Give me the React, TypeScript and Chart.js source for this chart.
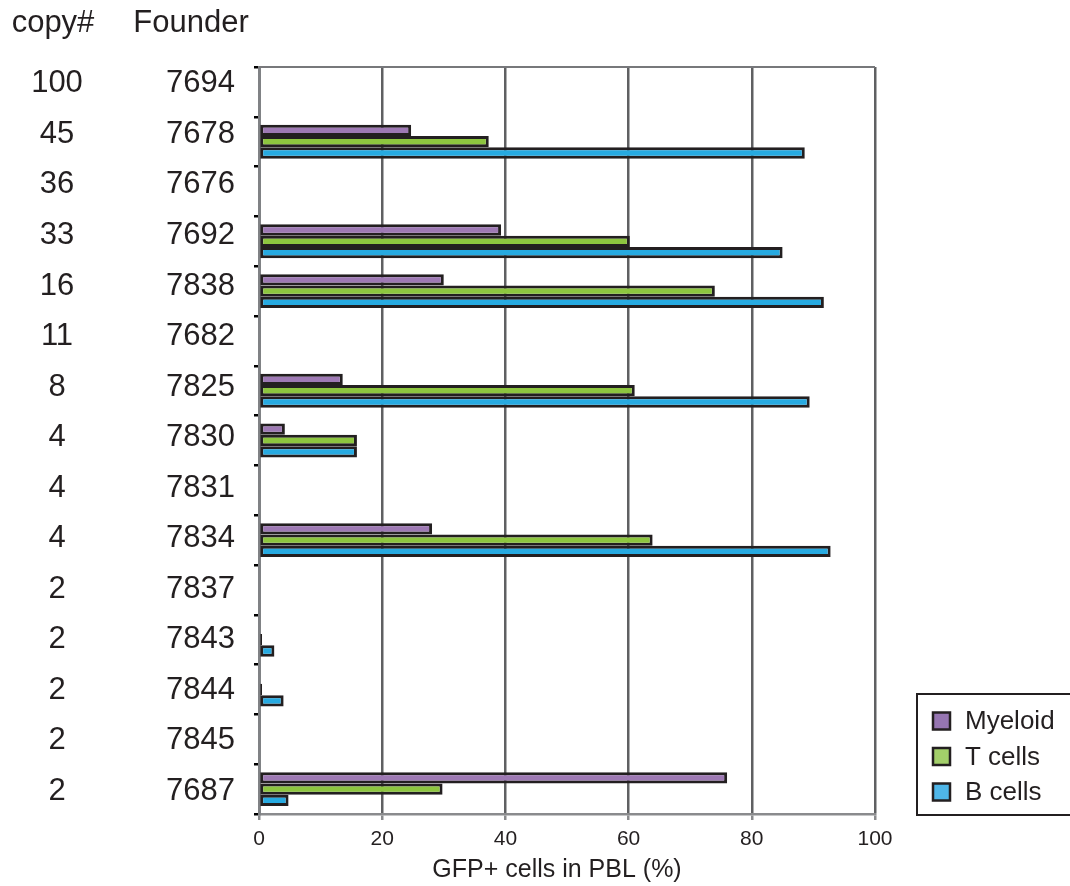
import React, { useEffect, useRef } from 'react';
import { Chart, registerables } from 'chart.js';

Chart.register(...registerables);

const founders = ['7694', '7678', '7676', '7692', '7838', '7682', '7825', '7830', '7831', '7834', '7837', '7843', '7844', '7845', '7687'];
const copyNumbers = ['100', '45', '36', '33', '16', '11', '8', '4', '4', '4', '2', '2', '2', '2', '2'];
const myeloid = [null, 24.7, null, 39.3, 30.0, null, 13.6, 4.2, null, 28.1, null, null, null, null, 76.0];
const tCells = [null, 37.3, null, 60.2, 74.0, null, 61.0, 15.9, null, 63.9, null, 0.5, 0.5, null, 29.8];
const bCells = [null, 88.6, null, 85.0, 91.7, null, 89.4, 15.9, null, 92.8, null, 2.5, 4.0, null, 4.8];
const seriesNames = ['Myeloid', 'T cells', 'B cells'];
const xAxisTitle = 'GFP+ cells in PBL (%)';
const xTickStep = 20;
const xMin = 0;
const xMax = 100;

const FONT = '"Liberation Sans", Arial, Helvetica, sans-serif';
const TEXT = '#231f20';
const barColors = ['#9e79b4', '#8dc63f', '#27aae1'];
const legendColors = ['#9675b1', '#a3cf6a', '#4fb6e8'];

const annotations = {
  id: 'annotations',
  afterDraw(chart: any) {
    const { ctx, chartArea: ca, scales } = chart;
    const y = scales.y;
    ctx.save();
    // top frame line
    ctx.strokeStyle = '#77787b';
    ctx.lineWidth = 2;
    ctx.beginPath();
    ctx.moveTo(ca.left, ca.top);
    ctx.lineTo(ca.right, ca.top);
    ctx.stroke();

    // column headers and row labels
    ctx.fillStyle = TEXT;
    ctx.font = `31px ${FONT}`;
    ctx.textBaseline = 'middle';
    ctx.textAlign = 'center';
    ctx.fillText('copy#', 53, 23);
    ctx.fillText('Founder', 191, 23);
    const n = founders.length;
    founders.forEach((f, i) => {
      const py = y.getPixelForValue(i) - 8 + (10 * i) / (n - 1);
      ctx.textAlign = 'center';
      ctx.fillText(copyNumbers[i], 57, py);
      ctx.textAlign = 'right';
      ctx.fillText(f, 235, py);
    });

    // x-axis title
    ctx.font = `25px ${FONT}`;
    ctx.textAlign = 'center';
    ctx.fillText(xAxisTitle, (ca.left + ca.right) / 2 - 10, 870);

    // legend box
    const lx = ca.right + 42;
    const ly = ca.bottom - 120;
    ctx.strokeStyle = TEXT;
    ctx.lineWidth = 2;
    ctx.strokeRect(lx, ly, 180, 121);
    ctx.font = `26px ${FONT}`;
    ctx.textAlign = 'left';
    seriesNames.forEach((name, i) => {
      const cy = ly + 27 + i * 35.5;
      ctx.fillStyle = legendColors[i];
      ctx.fillRect(lx + 16, cy - 8.5, 17, 17);
      ctx.strokeStyle = TEXT;
      ctx.lineWidth = 2.5;
      ctx.strokeRect(lx + 16, cy - 8.5, 17, 17);
      ctx.fillStyle = TEXT;
      ctx.fillText(name, lx + 48, cy + 1);
    });
    ctx.restore();
  },
};

export default function App() {
  const ref = useRef<HTMLCanvasElement>(null);
  useEffect(() => {
    if (!ref.current) return;
    Chart.defaults.font.family = FONT;
    const seriesData = [myeloid, tCells, bCells];
    const chart = new Chart(ref.current, {
      type: 'bar',
      data: {
        labels: founders,
        datasets: seriesNames.map((name, i) => ({
          label: name,
          data: seriesData[i] as any,
          backgroundColor: barColors[i],
          borderColor: TEXT,
          borderWidth: 3,
          borderSkipped: false,
          categoryPercentage: 0.68,
          barPercentage: 1.0,
        })),
      },
      options: {
        indexAxis: 'y',
        animation: false,
        responsive: false,
        layout: { padding: { top: 67, right: 195, left: 0, bottom: 0 } },
        plugins: { legend: { display: false }, tooltip: { enabled: false } },
        scales: {
          x: {
            type: 'linear',
            min: xMin,
            max: xMax,
            ticks: { stepSize: xTickStep, color: TEXT, font: { size: 21 }, padding: 7 },
            grid: { color: '#5f6062', lineWidth: 2.5, tickLength: 6, tickColor: '#8a8b8d' },
            border: { display: true, color: '#8a8b8d', width: 2.5 },
            title: { display: false },
            afterFit: (s: any) => { s.height = 72; },
          },
          y: {
            type: 'category',
            ticks: { display: false },
            grid: { drawOnChartArea: false, tickLength: 5, tickColor: '#000', lineWidth: 2.5 },
            border: { display: true, color: '#808285', width: 3 },
            afterFit: (s: any) => { s.width = 259; },
          },
        },
      },
      plugins: [annotations],
    });
    return () => chart.destroy();
  }, []);
  return (
    <div style={{ position: 'absolute', left: 0, top: 0, width: 1070, height: 886, background: '#fff' }}>
      <canvas ref={ref} width={1070} height={886} style={{ display: 'block' }} />
    </div>
  );
}
